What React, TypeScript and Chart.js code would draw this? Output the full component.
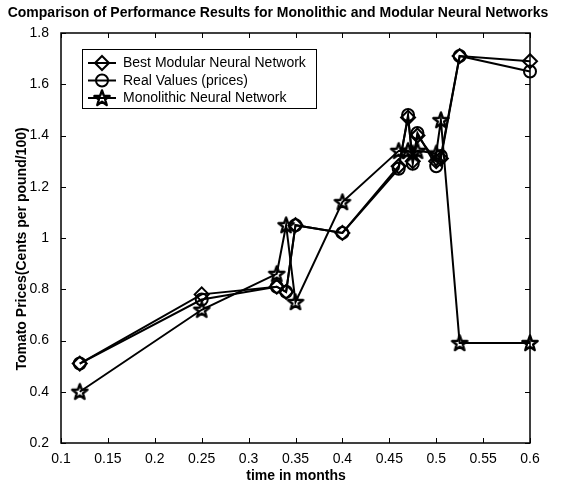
import React, { useEffect, useRef } from 'react';
import { Chart, registerables } from 'chart.js';

Chart.register(...registerables);

const months = [0.12, 0.25, 0.33, 0.34, 0.35, 0.40, 0.46, 0.47, 0.475, 0.48, 0.50, 0.505, 0.525, 0.60];
const modularPrices = [0.51, 0.78, 0.81, 0.79, 1.05, 1.02, 1.28, 1.47, 1.30, 1.40, 1.30, 1.31, 1.71, 1.69];
const realPrices = [0.51, 0.76, 0.81, 0.79, 1.05, 1.02, 1.27, 1.48, 1.29, 1.41, 1.28, 1.32, 1.71, 1.65];
const monolithicPrices = [0.40, 0.72, 0.86, 1.05, 0.75, 1.14, 1.34, 1.34, 1.33, 1.34, 1.33, 1.46, 0.59, 0.59];

const seriesNames = ['Best Modular Neural Network', 'Real Values (prices)', 'Monolithic Neural Network'];
const xTickValues = [0.1, 0.15, 0.2, 0.25, 0.3, 0.35, 0.4, 0.45, 0.5, 0.55, 0.6];
const yTickValues = [0.2, 0.4, 0.6, 0.8, 1, 1.2, 1.4, 1.6, 1.8];
const chartTitle = 'Comparison of Performance Results for Monolithic and Modular Neural Networks';
const xTitle = 'time in months';
const yTitle = 'Tomato Prices(Cents per pound/100)';

const FONT = "'Liberation Sans', Arial, sans-serif";

function makeStar(): HTMLCanvasElement {
  const c = document.createElement('canvas');
  c.width = 20;
  c.height = 20;
  const ctx = c.getContext('2d')!;
  const cx = 10, cy = 10.5, R = 8, r = 3.3;
  ctx.beginPath();
  for (let i = 0; i < 10; i++) {
    const a = -Math.PI / 2 + (i * Math.PI) / 5;
    const rad = i % 2 === 0 ? R : r;
    const px = cx + rad * Math.cos(a);
    const py = cy + rad * Math.sin(a);
    if (i === 0) ctx.moveTo(px, py);
    else ctx.lineTo(px, py);
  }
  ctx.closePath();
  ctx.lineWidth = 2.4;
  ctx.strokeStyle = '#000';
  ctx.lineJoin = 'round';
  ctx.stroke();
  return c;
}

export default function App() {
  const ref = useRef<HTMLCanvasElement>(null);

  useEffect(() => {
    const canvas = ref.current;
    if (!canvas) return;
    const star = makeStar();

    const decorPlugin = {
      id: 'matlabDecor',
      beforeDraw(chart: any) {
        const ctx = chart.ctx;
        ctx.save();
        ctx.fillStyle = '#fff';
        ctx.fillRect(0, 0, chart.width, chart.height);
        ctx.restore();
      },
      afterDraw(chart: any) {
        const ctx = chart.ctx;
        const { left, right, top, bottom } = chart.chartArea;
        const xs = chart.scales.x;
        const ys = chart.scales.y;
        ctx.save();
        // box
        ctx.strokeStyle = '#000';
        ctx.lineWidth = 1.5;
        ctx.strokeRect(left, top, right - left, bottom - top);
        // inward ticks
        ctx.lineWidth = 1;
        ctx.beginPath();
        xTickValues.forEach((v) => {
          const px = Math.round(xs.getPixelForValue(v)) + 0.5;
          ctx.moveTo(px, bottom);
          ctx.lineTo(px, bottom - 5);
          ctx.moveTo(px, top);
          ctx.lineTo(px, top + 5);
        });
        yTickValues.forEach((v) => {
          const py = Math.round(ys.getPixelForValue(v)) + 0.5;
          ctx.moveTo(left, py);
          ctx.lineTo(left + 5, py);
          ctx.moveTo(right, py);
          ctx.lineTo(right - 5, py);
        });
        ctx.stroke();

        // titles
        ctx.fillStyle = '#000';
        ctx.font = `bold 14px ${FONT}`;
        ctx.textAlign = 'center';
        ctx.textBaseline = 'middle';
        ctx.fillText(chartTitle, 278, 13);
        ctx.fillText(xTitle, 296, 476);
        ctx.save();
        ctx.translate(22, 249);
        ctx.rotate(-Math.PI / 2);
        ctx.fillText(yTitle, 0, 0);
        ctx.restore();

        // legend
        const lx = 82, ly = 49, lw = 234, lh = 59;
        ctx.fillStyle = '#fff';
        ctx.fillRect(lx, ly, lw, lh);
        ctx.strokeStyle = '#000';
        ctx.lineWidth = 1;
        ctx.strokeRect(lx + 0.5, ly + 0.5, lw, lh);
        const rows = [63, 80.5, 98];
        ctx.font = `14px ${FONT}`;
        ctx.textAlign = 'left';
        ctx.textBaseline = 'middle';
        chart.data.datasets.forEach((ds: any, i: number) => {
          const y = rows[i];
          ctx.strokeStyle = '#000';
          ctx.lineWidth = 2;
          ctx.beginPath();
          ctx.moveTo(88, y);
          ctx.lineTo(116, y);
          ctx.stroke();
          const mx = 102;
          if (ds.pointStyle === 'rectRot') {
            const r = ds.pointRadius;
            ctx.fillStyle = '#fff';
            ctx.beginPath();
            ctx.moveTo(mx, y - r);
            ctx.lineTo(mx + r, y);
            ctx.lineTo(mx, y + r);
            ctx.lineTo(mx - r, y);
            ctx.closePath();
            ctx.stroke();
          } else if (ds.pointStyle === 'circle') {
            ctx.beginPath();
            ctx.arc(mx, y, ds.pointRadius, 0, Math.PI * 2);
            ctx.stroke();
          } else {
            ctx.drawImage(star, mx - star.width / 2, y - star.height / 2);
          }
          ctx.fillStyle = '#000';
          ctx.fillText(ds.label, 123, y + 0.5);
        });
        ctx.restore();
      },
    };

    const chart = new Chart(canvas, {
      type: 'line',
      data: {
        datasets: [
          {
            label: seriesNames[0],
            data: months.map((m, i) => ({ x: m, y: modularPrices[i] })),
            borderColor: '#000',
            borderWidth: 2,
            pointStyle: 'rectRot',
            pointRadius: 7,
            pointBorderWidth: 2,
            pointBackgroundColor: 'rgba(0,0,0,0)',
            pointBorderColor: '#000',
            fill: false,
            tension: 0,
            clip: false,
          },
          {
            label: seriesNames[1],
            data: months.map((m, i) => ({ x: m, y: realPrices[i] })),
            borderColor: '#000',
            borderWidth: 2,
            pointStyle: 'circle',
            pointRadius: 6,
            pointBorderWidth: 2,
            pointBackgroundColor: 'rgba(0,0,0,0)',
            pointBorderColor: '#000',
            fill: false,
            tension: 0,
            clip: false,
          },
          {
            label: seriesNames[2],
            data: months.map((m, i) => ({ x: m, y: monolithicPrices[i] })),
            borderColor: '#000',
            borderWidth: 2,
            pointStyle: star as any,
            pointRadius: 8,
            fill: false,
            tension: 0,
            clip: false,
          },
        ],
      } as any,
      options: {
        animation: false,
        responsive: false,
        maintainAspectRatio: false,
        devicePixelRatio: 1,
        layout: { padding: { top: 33, right: 52, left: 0, bottom: 0 } },
        plugins: {
          legend: { display: false },
          title: { display: false },
          tooltip: { enabled: false },
        },
        scales: {
          x: {
            type: 'linear',
            min: 0.1,
            max: 0.6,
            grid: { display: false },
            border: { display: false },
            afterBuildTicks: (s: any) => {
              s.ticks = xTickValues.map((v) => ({ value: v }));
            },
            afterFit: (s: any) => {
              s.height = 42;
            },
            ticks: {
              color: '#000',
              font: { family: FONT, size: 14 },
              padding: 0,
              maxRotation: 0,
              autoSkip: false,
              callback: (v: any) => String(Number(v)),
            },
          },
          y: {
            type: 'linear',
            min: 0.2,
            max: 1.8,
            grid: { display: false },
            border: { display: false },
            afterBuildTicks: (s: any) => {
              s.ticks = yTickValues.map((v) => ({ value: v }));
            },
            afterFit: (s: any) => {
              s.width = 61;
            },
            ticks: {
              color: '#000',
              font: { family: FONT, size: 14 },
              padding: 4,
              autoSkip: false,
              callback: (v: any) => String(Number(v)),
            },
          },
        },
      } as any,
      plugins: [decorPlugin],
    });

    return () => chart.destroy();
  }, []);

  return (
    <div style={{ position: 'fixed', left: 0, top: 0, width: 582, height: 485, background: '#fff' }}>
      <canvas ref={ref} width={582} height={485} style={{ display: 'block', width: 582, height: 485 }} />
    </div>
  );
}
